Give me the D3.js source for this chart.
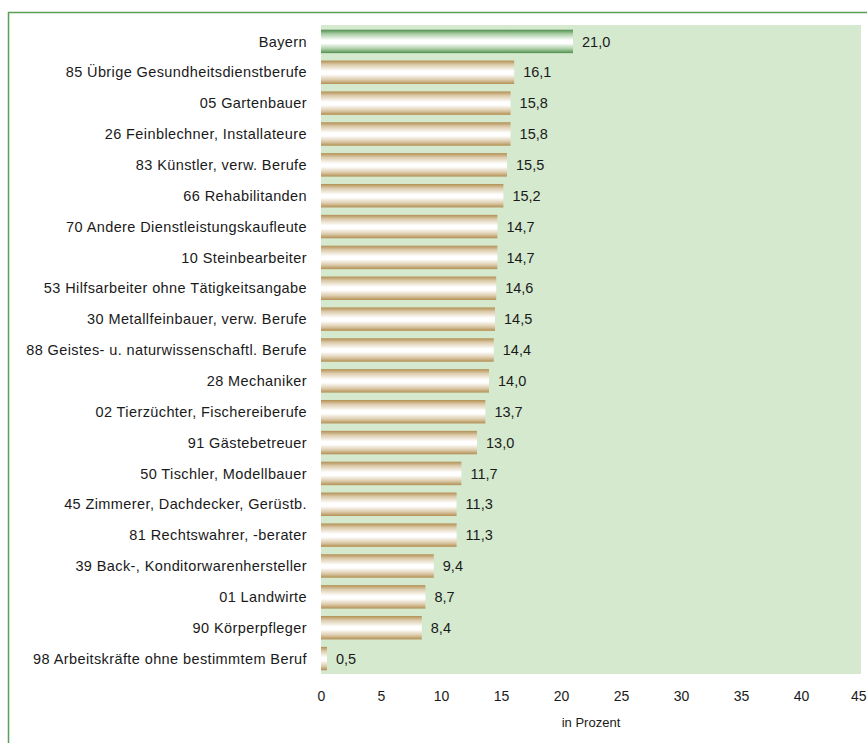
<!DOCTYPE html>
<html>
<head>
<meta charset="utf-8">
<script src="https://cdn.jsdelivr.net/npm/d3@7"></script>
<style>
  html, body { margin: 0; padding: 0; background: #ffffff; }
  svg { display: block; }
  text { font-family: "Liberation Sans", Arial, sans-serif; fill: #1a1a1a; }
</style>
</head>
<body>
<svg id="chart" width="867" height="743"></svg>
<script>
// Berufsgruppen, Anteil in Prozent
const categories = [
  "Bayern",
  "85 Übrige Gesundheitsdienstberufe",
  "05 Gartenbauer",
  "26 Feinblechner, Installateure",
  "83 Künstler, verw. Berufe",
  "66 Rehabilitanden",
  "70 Andere Dienstleistungskaufleute",
  "10 Steinbearbeiter",
  "53 Hilfsarbeiter ohne Tätigkeitsangabe",
  "30 Metallfeinbauer, verw. Berufe",
  "88 Geistes- u. naturwissenschaftl. Berufe",
  "28 Mechaniker",
  "02 Tierzüchter, Fischereiberufe",
  "91 Gästebetreuer",
  "50 Tischler, Modellbauer",
  "45 Zimmerer, Dachdecker, Gerüstb.",
  "81 Rechtswahrer, -berater",
  "39 Back-, Konditorwarenhersteller",
  "01 Landwirte",
  "90 Körperpfleger",
  "98 Arbeitskräfte ohne bestimmtem Beruf"
];
const values = [21.0, 16.1, 15.8, 15.8, 15.5, 15.2, 14.7, 14.7, 14.6, 14.5, 14.4,
                14.0, 13.7, 13.0, 11.7, 11.3, 11.3, 9.4, 8.7, 8.4, 0.5];
const xTicks = [0, 5, 10, 15, 20, 25, 30, 35, 40, 45];
const axisTitle = "in Prozent";

const data = categories.map((c, i) => ({ name: c, value: values[i] }));

const svg = d3.select("#chart");
const plot = { left: 321, right: 861, top: 26, bottom: 674 };

const x = d3.scaleLinear().domain([0, 45]).range([plot.left, plot.right]);
const y = d3.scaleBand().domain(categories).range([plot.top, plot.bottom])
  .paddingInner(0.24).paddingOuter(0.12);

// Frame lines (top and left)
svg.append("path")
  .attr("d", "M8.5,743 L8.5,12.5 L867,12.5")
  .attr("fill", "none").attr("stroke", "#5aa054").attr("stroke-width", 1.5);

// Plot area background
svg.append("rect")
  .attr("x", plot.left).attr("y", 25)
  .attr("width", plot.right - plot.left).attr("height", plot.bottom - 25)
  .attr("fill", "#d5e9cf");

// Cylindrical bar shading
const defs = svg.append("defs");
function shade(id, dark, mid) {
  const g = defs.append("linearGradient").attr("id", id)
    .attr("x1", 0).attr("y1", 0).attr("x2", 0).attr("y2", 1);
  [[0, dark], [0.18, mid], [0.45, "#ffffff"], [0.58, "#ffffff"], [0.82, mid], [1, dark]]
    .forEach(([o, c]) => g.append("stop").attr("offset", o).attr("stop-color", c));
}
shade("gTan", "#b38f52", "#dccbab");
shade("gGreen", "#4f8f4f", "#a9cda4");

svg.append("g").selectAll("rect").data(data).join("rect")
  .attr("x", x(0))
  .attr("y", d => y(d.name))
  .attr("width", d => x(d.value) - x(0))
  .attr("height", y.bandwidth())
  .attr("fill", (d, i) => i === 0 ? "url(#gGreen)" : "url(#gTan)");

// Value labels
const fmt = v => v.toFixed(1).replace(".", ",");
svg.append("g").selectAll("text").data(data).join("text")
  .attr("x", d => x(d.value) + 9)
  .attr("y", d => y(d.name) + y.bandwidth() / 2)
  .attr("dy", "0.35em")
  .attr("font-size", 14.5)
  .text(d => fmt(d.value));

// Category labels
svg.append("g").selectAll("text").data(data).join("text")
  .attr("x", 307)
  .attr("y", d => y(d.name) + y.bandwidth() / 2)
  .attr("dy", "0.35em")
  .attr("text-anchor", "end")
  .attr("font-size", 14.5)
  .attr("letter-spacing", 0.4)
  .text(d => d.name);

// X axis
const xAxis = d3.axisBottom(x).tickValues(xTicks).tickSize(0).tickPadding(0).tickFormat(d3.format("d"));
const gx = svg.append("g").attr("transform", `translate(0, 690)`).call(xAxis);
gx.select(".domain").remove();
gx.selectAll("text").attr("font-size", 14).attr("font-family", "Liberation Sans, Arial, sans-serif")
  .attr("fill", "#1a1a1a").attr("dy", "0.35em").attr("y", 6);
// keep the last tick label inside the page edge
gx.selectAll(".tick").filter(d => d === 45).select("text")
  .attr("text-anchor", "end").attr("x", 866 - x(45));

svg.append("text")
  .attr("x", (plot.left + plot.right) / 2)
  .attr("y", 727)
  .attr("text-anchor", "middle")
  .attr("font-size", 13)
  .text(axisTitle);
</script>
</body>
</html>
